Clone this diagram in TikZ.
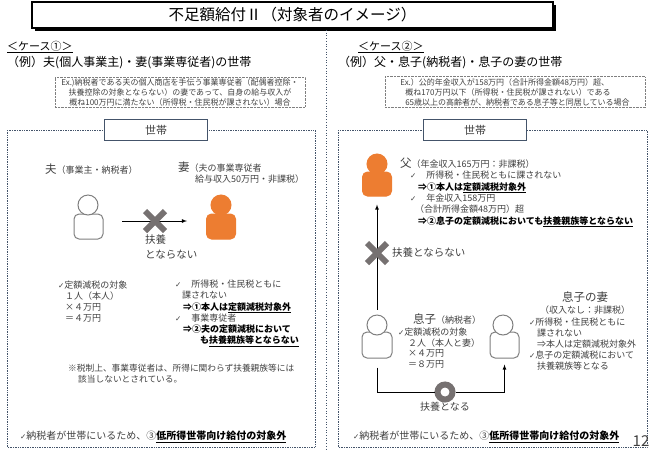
\documentclass[tikz,border=0pt]{standalone}
\usepackage{fontspec}
\setmainfont{Noto Sans CJK JP}
\newfontfamily\symfont{DejaVu Sans}
\usetikzlibrary{shapes.misc,shadows}
\definecolor{ink}{HTML}{404040}
\definecolor{orng}{HTML}{ED7D31}
\definecolor{xgray}{HTML}{767171}
\definecolor{frame}{HTML}{44546A}
\definecolor{pgray}{HTML}{7F7F7F}
\newcommand{\chk}{{\symfont\fontsize{7.5}{7}\selectfont ✓}}
\newcommand{\nm}[1]{{\fontsize{11.5}{11}\selectfont #1}}

\begin{document}
\begin{tikzpicture}[x=1pt, y=-1pt,
	txt/.style={inner sep=0, align=left, text=ink, font=\fontsize{9}{11}\selectfont},
	head/.style={inner sep=0, anchor=west, text=black, font=\fontsize{12}{13}\selectfont},
	exbox/.style={draw=pgray, densely dotted, inner sep=0, text=ink,
	font=\fontsize{8}{10}\selectfont},
	hh/.style={draw=frame, densely dotted, line width=.7},
	tag/.style={draw=frame, fill=white, line width=.8, minimum width=103,
	minimum height=21, text=ink, font=\fontsize{11}{11}\selectfont},
	hd/.style={circle, draw=pgray, fill=white, line width=1, minimum size=20, inner sep=0},
	bd/.style={rounded corners=5, draw=pgray, fill=white, line width=1,
	minimum width=29, minimum height=25, inner sep=0},
	hdo/.style={hd, draw=orng, fill=orng},
	bdo/.style={bd, draw=orng, fill=orng},
	nope/.style={cross out, draw=xgray, line width=6, minimum size=14, inner sep=0},
	ring/.style={circle, draw=xgray, fill=white, line width=6, minimum size=15, inner sep=0},
	arr/.style={-latex, line width=.8}
	]
	\useasboundingbox (0,0) rectangle (650,451);
	% title
	\draw(292.5,15)node[draw, line width=1.2, fill=white, minimum width=521,
	minimum height=26, font=\fontsize{15.5}{15}\selectfont,
	drop shadow={shadow xshift=3pt, shadow yshift=-3pt, fill=black, opacity=1}]
	(title) {不足額給付Ⅱ（対象者のイメージ）};
	\draw[frame, dotted, line width=.7] (326,30) -- (326,451);
	% case 1
	\draw(7,47)node[head, font=\fontsize{11}{13}\selectfont] (case1) {\underline{＜ケース①＞}};
	\draw(7,63)node[head] (ex1) {（例）夫(個人事業主)・妻(事業専従者)の世帯};
	\draw(180,92)node[exbox, minimum width=250, minimum height=30, align=center]
	(note1) {Ex.)納税者である夫の個人商店を手伝う事業専従者（配偶者控除・\\
	扶養控除の対象とならない）の妻であって、自身の給与収入が\\
	概ね100万円に満たない（所得税・住民税が課されない）場合};
	\draw[hh] (7,130) rectangle (315,447);
	\draw(156,130)node[tag] (tag1) {世帯};
	\draw(88.5,226.5)node[bd] (hbody) {};
	\draw(88,205)node[hd] (hhead) {};
	\draw(221,226.5)node[bdo] (wbody) {};
	\draw(221,205)node[hdo] (whead) {};
	\draw(45,169)node[txt, anchor=west] (hname) {\nm{夫}（事業主・納税者）};
	\draw(178,162)node[txt, anchor=north west] (wname)
	{\nm{妻}（夫の事業専従者\\ \hspace*{17pt}給与収入50万円・非課税）};
	\coordinate (a1) at (122,221);
	\coordinate (a2) at (187,221);
	\draw[arr] (a1) -- (a2);
	\draw(155,221)node[nope] (x1) {};
	\draw(145,234)node[txt, anchor=north west, font=\fontsize{10.5}{15}\selectfont]
	(lbl1) {扶養\\とならない};
	\draw(58,281)node[txt, anchor=north west] (calc1)
	{\chk 定額減税の対象\\ \hspace*{7pt}１人（本人）\\ \hspace*{7pt}×４万円\\
	\hspace*{7pt}＝４万円};
	\draw(175,280)node[txt, anchor=north west, font=\fontsize{9}{11.2}\selectfont]
	(cond1) {\chk\hspace{10pt}所得税・住民税ともに\\
	\hspace*{7pt}課されない\\
	\hspace*{8pt}{\color{black}\bfseries ⇒①本人は\underline{定額減税対象外}}\\
	\chk\hspace{10pt}事業専従者\\
	\hspace*{8pt}{\color{black}\bfseries ⇒②夫の定額減税において}\\
	\hspace*{25pt}{\color{black}\bfseries も\underline{扶養親族等とならない}}};
	\draw(68,364)node[txt, anchor=north west, font=\fontsize{8.7}{10.5}\selectfont]
	(rem1) {※税制上、事業専従者は、所得に関わらず扶養親族等には\\
	\hspace*{10pt}該当しないとされている。};
	\draw(20,437)node[txt, anchor=west, font=\fontsize{10}{12}\selectfont] (sum1)
	{\chk 納税者が世帯にいるため、③{\color{black}\bfseries\underline{低所得世帯向け給付の対象外}}};
	% case 2
	\draw(358,47)node[head, font=\fontsize{11}{13}\selectfont] (case2) {\underline{＜ケース②＞}};
	\draw(338,63)node[head] (ex2) {（例）父・息子(納税者)・息子の妻の世帯};
	\draw(515,92)node[exbox, minimum width=260, minimum height=31, align=left]
	(note2) {Ex.）公的年金収入が158万円（合計所得金額48万円）超、\\
	\hspace*{5pt}概ね170万円以下（所得税・住民税が課されない）である\\
	\hspace*{5pt}65歳以上の高齢者が、納税者である息子等と同居している場合};
	\draw[hh] (338,130) rectangle (647,447);
	\draw(475,130)node[tag] (tag2) {世帯};
	\draw(377,184)node[bdo, minimum height=24] (fbody) {};
	\draw(377,164)node[hdo] (fhead) {};
	\draw(400,157.5)node[txt, anchor=north west, font=\fontsize{9}{11.4}\selectfont]
	(fname) {\nm{父}（年金収入165万円：非課税）\\
	\hspace*{10pt}\chk\hspace{10pt}所得税・住民税ともに課されない\\
	\hspace*{18pt}{\color{black}\bfseries ⇒①本人は\underline{定額減税対象外}}\\
	\hspace*{10pt}\chk\hspace{10pt}年金収入158万円\\
	\hspace*{15pt}（合計所得金額48万円）超\\
	\hspace*{18pt}{\color{black}\bfseries ⇒②息子の定額減税においても\underline{扶養親族等とならない}}};
	\draw(377,345)node[bd, minimum width=30, minimum height=26] (sbody) {};
	\draw(377,325)node[hd] (shead) {};
	\draw(504.5,345)node[bd, minimum height=26] (sbody2) {};
	\draw(503,325)node[hd] (shead2) {};
	\draw[arr, shorten <=5pt, shorten >=8pt] (shead.north) -- (fbody.south);
	\draw(377,253)node[nope] (x2) {};
	\draw(392,253)node[txt, anchor=west, font=\fontsize{10.5}{12}\selectfont]
	(lbl2) {扶養とならない};
	\draw(413,319)node[txt, anchor=west] (sname) {\nm{息子}（納税者）};
	\draw(398,327.5)node[txt, anchor=north west, font=\fontsize{9}{10.7}\selectfont]
	(calc2) {\chk 定額減税の対象\\ \hspace*{10pt}２人（本人と妻）\\
	\hspace*{10pt}×４万円\\ \hspace*{10pt}＝８万円};
	\draw(585,297)node[txt, font=\fontsize{11.5}{12}\selectfont] (swname) {息子の妻};
	\draw(585,310)node[txt] (swinc) {（収入なし：非課税）};
	\draw(529,317.5)node[txt, anchor=north west] (cond2)
	{\chk 所得税・住民税ともに\\ \hspace*{8pt}課されない\\
	\hspace*{8pt}⇒本人は定額減税対象外\\ \chk 息子の定額減税において\\
	\hspace*{8pt}扶養親族等となる};
	\draw(445,392)node[ring] (rg) {};
	\draw[line width=.8, shorten <=9pt] (sbody.south) |- (rg.west);
	\draw[arr, shorten >=6pt] (rg.east) -| (sbody2.south);
	\draw(445,407)node[txt, font=\fontsize{10}{12}\selectfont] (lbl3) {扶養となる};
	\draw(353,437)node[txt, anchor=west, font=\fontsize{10}{12}\selectfont] (sum2)
	{\chk 納税者が世帯にいるため、③{\color{black}\bfseries\underline{低所得世帯向け給付の対象外}}};
	\draw(641,441)node[txt, text=ink, font=\fontsize{15}{15}\selectfont] (page) {12};
\end{tikzpicture}
\end{document}
